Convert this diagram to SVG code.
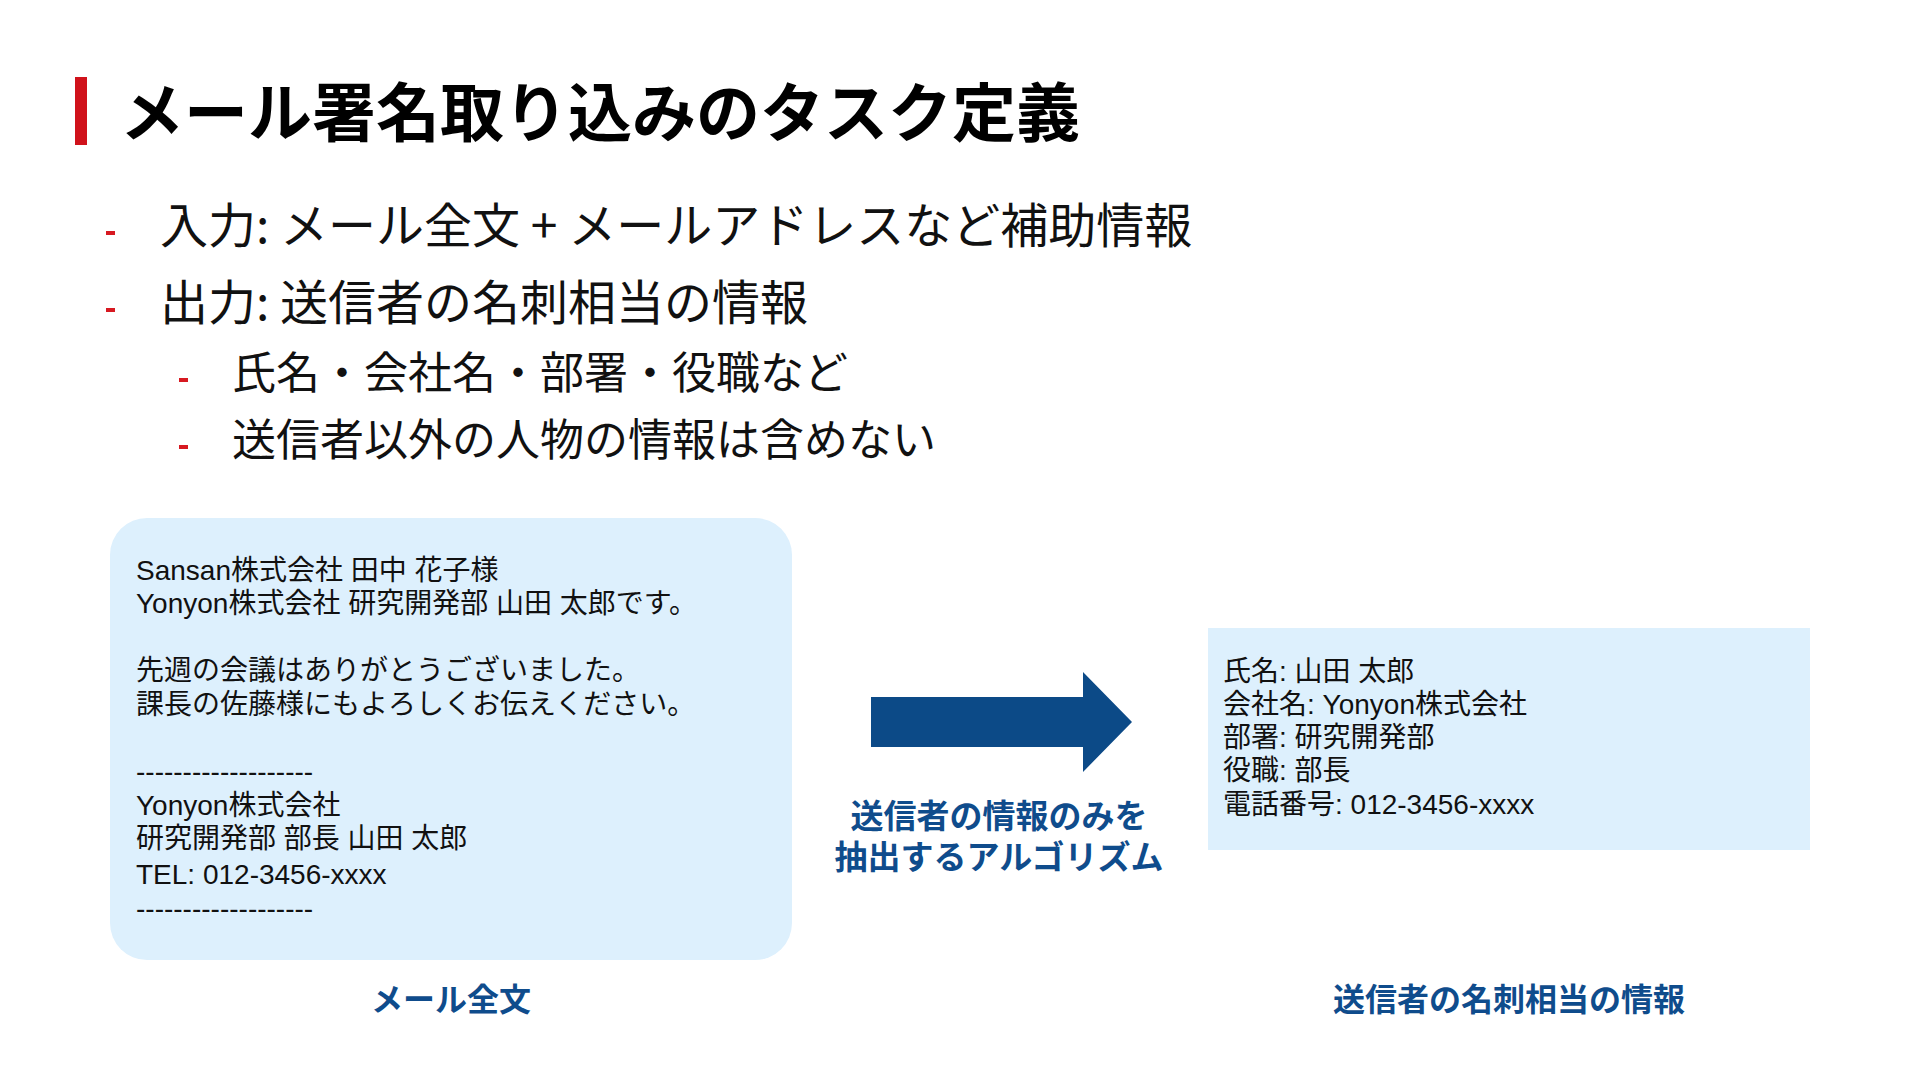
<svg xmlns="http://www.w3.org/2000/svg" width="1920" height="1080" viewBox="0 0 1920 1080">
<style>
.title{font-family:"Noto Sans CJK JP","Noto Sans",sans-serif;font-weight:700;font-size:64px;fill:#000}
.b1{font-family:"Noto Sans CJK JP","Noto Sans",sans-serif;font-size:48px;fill:#111}
.b2{font-family:"Noto Sans CJK JP","Noto Sans",sans-serif;font-size:44px;fill:#111}
.dash{fill:#d71921}
.box{fill:#ddf0fd}
.body{font-family:"Liberation Sans","Noto Sans CJK JP",sans-serif;font-size:28px;fill:#111}
.lab{font-family:"Noto Sans CJK JP","Noto Sans",sans-serif;font-weight:700;font-size:32px;fill:#0f4c8c;text-anchor:middle}
.alab{font-family:"Noto Sans CJK JP","Noto Sans",sans-serif;font-weight:700;font-size:33px;fill:#0f4c8c;text-anchor:middle}
</style>
<rect width="1920" height="1080" fill="#fff"/>
<g id="title">
<rect x="75" y="77" width="12" height="68" fill="#d0121b"/>
<text class="title" x="120" y="136">メール署名取り込みのタスク定義</text>
</g>
<g id="bullets">
<rect class="dash" x="106" y="231" width="9" height="4"/>
<text class="b1" x="160" y="243">入力: メール全文 + メールアドレスなど補助情報</text>
<rect class="dash" x="106" y="308" width="9" height="4"/>
<text class="b1" x="160" y="320">出力: 送信者の名刺相当の情報</text>
<rect class="dash" x="179" y="378" width="9" height="4"/>
<text class="b2" x="232" y="389">氏名・会社名・部署・役職など</text>
<rect class="dash" x="179" y="445" width="9" height="4"/>
<text class="b2" x="232" y="456">送信者以外の人物の情報は含めない</text>
</g>
<g id="mail">
<rect class="box" x="110" y="518" width="682" height="442" rx="37" ry="37"/>
<text class="body" x="136" y="580">Sansan株式会社 田中 花子様</text>
<text class="body" x="136" y="613">Yonyon株式会社 研究開発部 山田 太郎です。</text>
<text class="body" x="136" y="680">先週の会議はありがとうございました。</text>
<text class="body" x="136" y="714">課長の佐藤様にもよろしくお伝えください。</text>
<text class="body" x="136" y="781">-------------------</text>
<text class="body" x="136" y="815">Yonyon株式会社</text>
<text class="body" x="136" y="848">研究開発部 部長 山田 太郎</text>
<text class="body" x="136" y="884">TEL: 012-3456-xxxx</text>
<text class="body" x="136" y="918">-------------------</text>
</g>
<g id="mail-label">
<text class="lab" x="451" y="1011">メール全文</text>
</g>
<g id="card">
<rect class="box" x="1208" y="628" width="602" height="222"/>
<text class="body" x="1223" y="681">氏名: 山田 太郎</text>
<text class="body" x="1223" y="714">会社名: Yonyon株式会社</text>
<text class="body" x="1223" y="747">部署: 研究開発部</text>
<text class="body" x="1223" y="780">役職: 部長</text>
<text class="body" x="1223" y="814">電話番号: 012-3456-xxxx</text>
</g>
<g id="card-label">
<text class="lab" x="1509" y="1011">送信者の名刺相当の情報</text>
</g>
<g id="connectors">
<polygon points="871,697 1083,697 1083,672 1132,722 1083,772 1083,747 871,747" fill="#0c4a87"/>
<text class="alab" x="998" y="828"><tspan x="999" y="828">送信者の情報のみを</tspan><tspan x="999" y="869">抽出するアルゴリズム</tspan></text>
</g>
</svg>
